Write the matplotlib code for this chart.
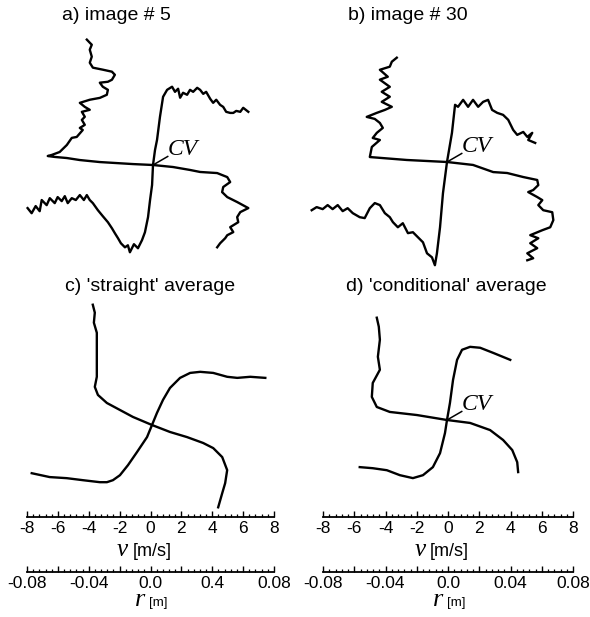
import matplotlib
matplotlib.use("Agg")
import matplotlib.pyplot as plt
from matplotlib.ticker import MultipleLocator
import numpy as np

# velocity profiles through the vortex centre (CV)
# *_h : profile along a horizontal line (r horizontal, v plotted vertically)
# *_v : profile along a vertical line (r vertical, v plotted horizontally)

# a) image # 5
a_h_r = [-0.0809, -0.0783, -0.0757, -0.0731, -0.0718, -0.0686, -0.0666, -0.0634, -0.0615, -0.0589,
         -0.0569, -0.0550, -0.0524, -0.0498, -0.0472, -0.0446, -0.0427, -0.0408, -0.0388, -0.0356,
         -0.0324, -0.0291, -0.0265, -0.0246, -0.0226, -0.0207, -0.0181, -0.0162, -0.0149, -0.0123,
         -0.0097, -0.0071, -0.0052, -0.0032, -0.0019, -0.0006, 0.0, 0.0013, 0.0026, 0.0045,
         0.0065, 0.0091, 0.0123, 0.0142, 0.0162, 0.0175, 0.0194, 0.0220, 0.0239, 0.0259,
         0.0285, 0.0304, 0.0324, 0.0343, 0.0369, 0.0388, 0.0408, 0.0433, 0.0453, 0.0472,
         0.0498, 0.0518, 0.0537, 0.0563, 0.0582, 0.0615]
a_h_v = [-2.78, -3.11, -2.65, -2.98, -2.26, -2.59, -2.14, -2.46, -2.07, -2.33,
         -2.01, -2.46, -2.14, -2.26, -1.94, -2.26, -1.94, -2.26, -2.46, -2.91,
         -3.30, -3.69, -4.08, -4.40, -4.72, -5.05, -5.31, -5.18, -5.63, -5.11,
         -5.37, -4.85, -4.34, -3.36, -2.26, -1.29, 0.0, 0.97, 1.62, 3.11,
         4.40, 4.85, 5.05, 4.72, 4.92, 4.34, 4.66, 4.53, 4.85, 4.72,
         4.98, 4.85, 4.59, 4.72, 4.27, 4.01, 4.21, 3.88, 3.75, 3.43,
         3.36, 3.36, 3.49, 3.43, 3.69, 3.43]
a_v_r = [0.0809, 0.0789, 0.0776, 0.0744, 0.0699, 0.0660, 0.0628, 0.0615, 0.0602, 0.0582,
         0.0550, 0.0537, 0.0531, 0.0505, 0.0485, 0.0453, 0.0433, 0.0421, 0.0401, 0.0375,
         0.0356, 0.0343, 0.0311, 0.0291, 0.0259, 0.0239, 0.0226, 0.0181, 0.0175, 0.0129,
         0.0084, 0.0065, 0.0058, 0.0052, 0.0045, 0.0032, 0.0019, 0.0006, 0.0, -0.0013,
         -0.0032, -0.0045, -0.0052, -0.0078, -0.0110, -0.0142, -0.0175, -0.0207, -0.0239, -0.0278,
         -0.0304, -0.0336, -0.0369, -0.0401, -0.0433, -0.0453, -0.0472, -0.0505, -0.0531]
a_v_v = [-4.27, -4.08, -3.95, -4.08, -3.95, -4.08, -3.88, -3.24, -2.65, -2.46,
         -2.65, -2.91, -3.43, -3.24, -2.91, -2.98, -3.43, -4.08, -4.72, -4.40,
         -4.08, -4.59, -4.40, -4.59, -4.40, -4.72, -4.53, -4.92, -5.24, -5.56,
         -6.02, -6.53, -6.79, -6.34, -5.56, -4.72, -3.43, -1.29, 0.0, 1.29,
         2.39, 3.04, 4.14, 4.79, 4.98, 4.53, 4.46, 4.79, 5.43, 6.15,
         5.63, 5.43, 5.50, 4.98, 5.18, 4.79, 4.66, 4.33, 4.14]

# b) image # 30
b_h_r = [-0.0873, -0.0841, -0.0802, -0.0770, -0.0738, -0.0705, -0.0673, -0.0641, -0.0608, -0.0563,
         -0.0531, -0.0498, -0.0466, -0.0433, -0.0401, -0.0369, -0.0349, -0.0317, -0.0285, -0.0252,
         -0.0220, -0.0188, -0.0155, -0.0129, -0.0097, -0.0078, -0.0065, -0.0045, -0.0026, 0.0,
         0.0032, 0.0052, 0.0071, 0.0104, 0.0136, 0.0168, 0.0201, 0.0233, 0.0265, 0.0291,
         0.0324, 0.0362, 0.0395, 0.0427, 0.0453, 0.0492, 0.0518, 0.0550, 0.0524, 0.0569]
b_h_v = [-3.11, -2.91, -3.04, -2.78, -3.04, -2.78, -3.17, -2.98, -3.30, -3.56,
         -3.62, -2.98, -2.65, -2.78, -3.30, -3.56, -3.88, -4.21, -3.95, -4.59,
         -4.53, -4.85, -5.18, -5.89, -6.15, -6.66, -5.89, -4.21, -2.01, 0.0,
         1.88, 3.69, 3.56, 4.01, 3.56, 4.01, 3.56, 3.88, 4.01, 3.36,
         3.17, 3.04, 2.72, 2.07, 1.75, 1.94, 1.62, 1.88, 1.42, 1.23]
b_v_r = [0.0673, 0.0647, 0.0615, 0.0595, 0.0550, 0.0531, 0.0485, 0.0453, 0.0421, 0.0388,
         0.0356, 0.0336, 0.0317, 0.0291, 0.0278, 0.0252, 0.0220, 0.0188, 0.0155, 0.0142,
         0.0097, 0.0032, 0.0013, 0.0, -0.0019, -0.0065, -0.0071, -0.0097, -0.0116, -0.0149,
         -0.0181, -0.0194, -0.0226, -0.0246, -0.0278, -0.0311, -0.0324, -0.0375, -0.0421, -0.0440,
         -0.0459, -0.0472, -0.0492, -0.0524, -0.0556, -0.0589, -0.0621, -0.0634]
b_v_v = [-3.24, -3.56, -3.69, -4.33, -3.82, -4.33, -3.69, -4.21, -3.69, -4.21,
         -3.56, -4.01, -4.53, -5.18, -4.66, -4.33, -4.14, -4.53, -4.79, -4.33,
         -4.85, -4.98, -2.59, 0.0, 1.68, 2.98, 3.88, 4.92, 5.82, 5.89,
         5.56, 5.24, 5.82, 6.15, 5.89, 6.21, 6.79, 6.86, 6.66, 6.15,
         5.69, 5.37, 5.89, 5.37, 5.82, 5.18, 5.56, 5.18]

# c) 'straight' average
c_h_r = [-0.0776, -0.0660, -0.0550, -0.0446, -0.0336, -0.0291, -0.0252, -0.0207, -0.0155, -0.0097,
         -0.0032, 0.0, 0.0032, 0.0071, 0.0116, 0.0181, 0.0246, 0.0311, 0.0395, 0.0485,
         0.0550, 0.0634, 0.0731]
c_h_v = [-3.11, -3.36, -3.43, -3.56, -3.69, -3.69, -3.56, -3.24, -2.59, -1.75,
         -0.78, 0.0, 0.78, 1.62, 2.39, 3.04, 3.36, 3.43, 3.36, 3.11,
         3.04, 3.11, 3.04]
c_v_r = [0.0776, 0.0725, 0.0660, 0.0595, 0.0505, 0.0401, 0.0311, 0.0246, 0.0194, 0.0142,
         0.0097, 0.0052, 0.0, -0.0045, -0.0078, -0.0116, -0.0149, -0.0207, -0.0291, -0.0375,
         -0.0440, -0.0531]
c_v_v = [-3.82, -3.69, -3.75, -3.56, -3.56, -3.56, -3.56, -3.69, -3.49, -2.91,
         -2.07, -1.23, 0.0, 1.16, 2.26, 3.30, 3.95, 4.53, 4.85, 4.72,
         4.53, 4.27]

# d) 'conditional' average
d_h_r = [-0.0563, -0.0479, -0.0388, -0.0304, -0.0220, -0.0155, -0.0091, -0.0045, -0.0013, 0.0,
         0.0019, 0.0039, 0.0065, 0.0097, 0.0149, 0.0214, 0.0298, 0.0408]
d_h_v = [-3.04, -3.11, -3.24, -3.56, -3.75, -3.56, -3.04, -2.14, -0.84, 0.0,
         1.10, 2.59, 3.88, 4.53, 4.72, 4.66, 4.33, 3.88]
d_v_r = [0.0660, 0.0602, 0.0518, 0.0408, 0.0324, 0.0239, 0.0149, 0.0084, 0.0052, 0.0032,
         0.0, -0.0019, -0.0065, -0.0129, -0.0194, -0.0272, -0.0336]
d_v_v = [-4.53, -4.40, -4.33, -4.46, -4.33, -4.79, -4.85, -4.53, -3.69, -1.94,
         0.0, 1.49, 2.78, 3.62, 4.21, 4.53, 4.59]

titles = ["a) image # 5", "b) image # 30", "c) 'straight' average", "d) 'conditional' average"]
v_ticks = [-8, -6, -4, -2, 0, 2, 4, 6, 8]
r_ticks = [-0.08, -0.06, -0.04, -0.02, 0.0, 0.02, 0.04, 0.06, 0.08]
r_labels_c = ["-0.08", "", "-0.04", "", "0.0", "", "0.4", "", "0.08"]
r_labels_d = ["-0.08", "", "-0.04", "", "0.0", "", "0.04", "", "0.08"]

SANS = "Liberation Sans"
SERIF = "Liberation Serif"
W, H = 590, 617
S = 15.5  # pixels per m/s (and per 0.01 m)

fig = plt.figure(figsize=(W / 100, H / 100), dpi=100)


def panel(cx, cy, x0, x1, y0, y1):
    ax = fig.add_axes([x0 / W, 1 - y1 / H, (x1 - x0) / W, (y1 - y0) / H])
    ax.set_xlim((x0 - cx) / S, (x1 - cx) / S)
    ax.set_ylim((cy - y1) / S, (cy - y0) / S)
    ax.axis("off")
    return ax


def draw(ax, hr, hv, vr, vv, cv=True):
    ax.plot(np.array(hr) * 100, hv, color="black", lw=1.7)
    ax.plot(vv, np.array(vr) * 100, color="black", lw=1.7)
    if cv:
        ax.plot([0, 0.95], [0, 0.55], color="black", lw=1.1)
        ax.text(0.95, 0.35, "CV", family=SERIF, style="italic", fontsize=17,
                ha="left", va="bottom")


ax_a = panel(153, 165, 0, 295, 25, 270)
draw(ax_a, a_h_r, a_h_v, a_v_r, a_v_v)
ax_b = panel(447, 162, 295, 590, 25, 270)
draw(ax_b, b_h_r, b_h_v, b_v_r, b_v_v)
ax_c = panel(152, 425, 0, 295, 298, 515)
draw(ax_c, c_h_r, c_h_v, c_v_r, c_v_v, cv=False)
ax_d = panel(447, 420, 295, 590, 298, 515)
draw(ax_d, d_h_r, d_h_v, d_v_r, d_v_v)

# panel titles
fig.text(116 / W, 1 - 20 / H, titles[0], family=SANS, fontsize=14, ha="center", va="baseline")
fig.text(408 / W, 1 - 20 / H, titles[1], family=SANS, fontsize=14, ha="center", va="baseline")
fig.text(150 / W, 1 - 291 / H, titles[2], family=SANS, fontsize=14, ha="center", va="baseline")
fig.text(446 / W, 1 - 291 / H, titles[3], family=SANS, fontsize=14, ha="center", va="baseline")


def scale_axis(x0, x1, y, lo, hi, ticks, labels, minor, pad):
    ax = fig.add_axes([x0 / W, 1 - y / H, (x1 - x0) / W, 10 / H])
    ax.set_xlim(lo, hi)
    ax.set_ylim(0, 1)
    for s in ["top", "left", "right"]:
        ax.spines[s].set_visible(False)
    ax.spines["bottom"].set_linewidth(1.3)
    ax.set_yticks([])
    ax.set_xticks(ticks)
    ax.set_xticklabels(labels, family=SANS, fontsize=12.5)
    ax.xaxis.set_minor_locator(MultipleLocator(minor))
    ax.tick_params(axis="x", which="major", direction="in", length=4.5, width=1.0, pad=3)
    ax.tick_params(axis="x", which="minor", direction="in", length=2.5, width=0.9)
    ax.patch.set_visible(False)
    return ax


v_labels = [str(t) for t in v_ticks]
for (x0, x1, rl) in [(27, 274, r_labels_c), (323, 573, r_labels_d)]:
    scale_axis(x0, x1, 517, -8, 8, v_ticks, v_labels, 0.4, 3)
    scale_axis(x0, x1, 572, -0.08, 0.08, r_ticks, rl, 0.004, 2)
    xm = (x0 + x1) / 2
    fig.text((xm - 28) / W, 1 - 556 / H, "v", family=SERIF, style="italic", fontsize=18,
             ha="center", va="baseline")
    fig.text((xm - 18) / W, 1 - 556 / H, "[m/s]", family=SANS, fontsize=13,
             ha="left", va="baseline")
    fig.text((xm - 10) / W, 1 - 606 / H, "r", family=SERIF, style="italic", fontsize=19,
             ha="center", va="baseline")
    fig.text((xm - 1) / W, 1 - 606 / H, "[m]", family=SANS, fontsize=9.5,
             ha="left", va="baseline")

fig.savefig("out.png", dpi=100)
